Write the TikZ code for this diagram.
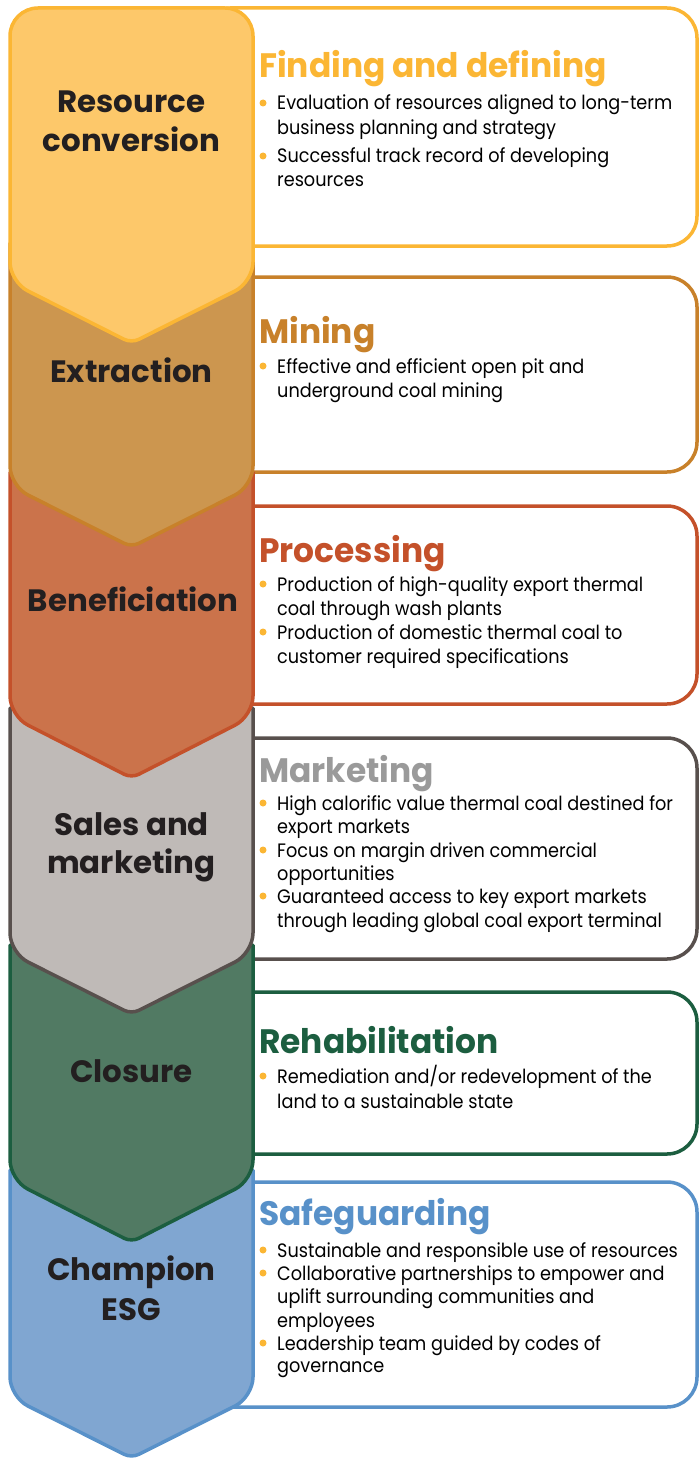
\documentclass[tikz,border=0pt]{standalone}
\usepackage{fontspec}
\newfontfamily\bodyfont{Poppins}[FakeStretch=0.91]
\newfontfamily\headfont{Poppins}[FakeStretch=0.97]
\newfontfamily\labfont{Poppins}[FakeStretch=1.0]
\definecolor{cY}{HTML}{FBB634}
\definecolor{fY}{HTML}{FDC86A}
\definecolor{cB}{HTML}{C8812A}
\definecolor{fB}{HTML}{CC964F}
\definecolor{cO}{HTML}{C4512A}
\definecolor{fO}{HTML}{CB734B}
\definecolor{cG}{HTML}{58504D}
\definecolor{fG}{HTML}{BFBAB7}
\definecolor{hG}{HTML}{9A9A9A}
\definecolor{cN}{HTML}{1C5E40}
\definecolor{fN}{HTML}{517A63}
\definecolor{cL}{HTML}{5891C9}
\definecolor{fL}{HTML}{80A6D1}
\definecolor{labtext}{HTML}{231F20}
\definecolor{bul}{HTML}{FBB634}
\begin{document}
\begin{tikzpicture}[x=1bp,y=-1bp,
  chev/.style={line width=3.5bp, line join=round},
  box/.style={line width=3.5bp, rounded corners=30bp, fill=white},
  lab/.style={anchor=base, inner sep=0pt, text=labtext, font=\labfont\bfseries\fontsize{31}{36}\selectfont},
  head/.style={anchor=base west, inner sep=0pt, font=\headfont\bfseries\fontsize{34}{38}\selectfont},
  txt/.style={anchor=base west, inner sep=0pt, text=black, font=\bodyfont\fontsize{19.5}{24}\selectfont},
  dot/.style={circle, fill=bul, inner sep=0pt, minimum size=7bp}]
\useasboundingbox (0,0) rectangle (699,1461);
% text boxes
\draw[box, draw=cY] (200,8) rectangle (697,246);
\draw[box, draw=cB] (200,277) rectangle (697,472);
\draw[box, draw=cO] (200,506) rectangle (697,704);
\draw[box, draw=cG] (200,738) rectangle (697,959);
\draw[box, draw=cN] (200,992) rectangle (697,1154);
\draw[box, draw=cL] (200,1182) rectangle (697,1407);
% chevrons, bottom first
\draw[chev, fill=fL, draw=cL] (131.5,1170) -- (253,1170) [rounded corners=20bp] -- (253,1397) [rounded corners=8bp] -- (131.5,1458) [rounded corners=20bp] -- (10,1397) [sharp corners] -- (10,1170) -- cycle;
\draw[chev, fill=fN, draw=cN] (131.5,945) -- (253,945) [rounded corners=20bp] -- (253,1180) [rounded corners=8bp] -- (131.5,1242) [rounded corners=20bp] -- (10,1180) [sharp corners] -- (10,945) -- cycle;
\draw[chev, fill=fG, draw=cG] (131.5,708) -- (253,708) [rounded corners=20bp] -- (253,953) [rounded corners=8bp] -- (131.5,1014) [rounded corners=20bp] -- (10,953) [sharp corners] -- (10,708) -- cycle;
\draw[chev, fill=fO, draw=cO] (131.5,472) -- (253,472) [rounded corners=20bp] -- (253,716) [rounded corners=8bp] -- (131.5,778) [rounded corners=20bp] -- (10,716) [sharp corners] -- (10,472) -- cycle;
\draw[chev, fill=fB, draw=cB] (131.5,243) -- (253,243) [rounded corners=20bp] -- (253,486) [rounded corners=8bp] -- (131.5,547) [rounded corners=20bp] -- (10,486) [sharp corners] -- (10,243) -- cycle;
\draw[chev, fill=fY, draw=cY] (131.5,8) [rounded corners=28bp] -- (253,8) [rounded corners=20bp] -- (253,282) [rounded corners=8bp] -- (131.5,343) [rounded corners=20bp] -- (10,282) [rounded corners=28bp] -- (10,8) -- cycle;
% chevron labels
\node[lab] (l1a) at (131.5,113) {Resource};
\node[lab] (l1b) at (131.5,152) {conversion};
\node[lab] (l2) at (131.5,382) {Extraction};
\node[lab] (l3) at (133,611) {Beneficiation};
\node[lab] (l4a) at (131.5,835) {Sales and};
\node[lab] (l4b) at (131.5,873) {marketing};
\node[lab] (l5) at (131.5,1082) {Closure};
\node[lab] (l6a) at (131.5,1280) {Champion};
\node[lab] (l6b) at (131.5,1320) {ESG};
% box 1
\node[head, text=cY] (h1) at (259,78) {Finding and defining};
\node[dot] (d11) at (263,103) {};
\node[txt] (t11) at (277,110) {Evaluation of resources aligned to long-term};
\node[txt] (t12) at (277,135) {business planning and strategy};
\node[dot] (d12) at (263,156) {};
\node[txt] (t13) at (277,163) {Successful track record of developing};
\node[txt] (t14) at (277,187) {resources};
% box 2
\node[head, text=cB] (h2) at (259,343) {Mining};
\node[dot] (d21) at (263,366) {};
\node[txt] (t21) at (277,373) {Effective and efficient open pit and};
\node[txt] (t22) at (277,397) {underground coal mining};
% box 3
\node[head, text=cO] (h3) at (259,562) {Processing};
\node[dot] (d31) at (263,584) {};
\node[txt] (t31) at (277,591) {Production of high-quality export thermal};
\node[txt] (t32) at (277,615) {coal through wash plants};
\node[dot] (d32) at (263,632) {};
\node[txt] (t33) at (277,639) {Production of domestic thermal coal to};
\node[txt] (t34) at (277,663) {customer required specifications};
% box 4
\node[head, text=hG] (h4) at (259,782) {Marketing};
\node[dot] (d41) at (263,803) {};
\node[txt] (t41) at (277,810) {High calorific value thermal coal destined for};
\node[txt] (t42) at (277,833) {export markets};
\node[dot] (d42) at (263,850) {};
\node[txt] (t43) at (277,857) {Focus on margin driven commercial};
\node[txt] (t44) at (277,880) {opportunities};
\node[dot] (d43) at (263,896) {};
\node[txt] (t45) at (277,903) {Guaranteed access to key export markets};
\node[txt] (t46) at (277,927) {through leading global coal export terminal};
% box 5
\node[head, text=cN] (h5) at (259,1053) {Rehabilitation};
\node[dot] (d51) at (263,1076) {};
\node[txt] (t51) at (277,1083) {Remediation and/or redevelopment of the};
\node[txt] (t52) at (277,1108) {land to a sustainable state};
% box 6
\node[head, text=cL] (h6) at (259,1225) {Safeguarding};
\node[dot] (d61) at (263,1250) {};
\node[txt] (t61) at (277,1257) {Sustainable and responsible use of resources};
\node[dot] (d62) at (263,1273) {};
\node[txt] (t62) at (277,1280) {Collaborative partnerships to empower and};
\node[txt] (t63) at (277,1303) {uplift surrounding communities and};
\node[txt] (t64) at (277,1327) {employees};
\node[dot] (d63) at (263,1343) {};
\node[txt] (t65) at (277,1350) {Leadership team guided by codes of};
\node[txt] (t66) at (277,1372) {governance};
\end{tikzpicture}
\end{document}
